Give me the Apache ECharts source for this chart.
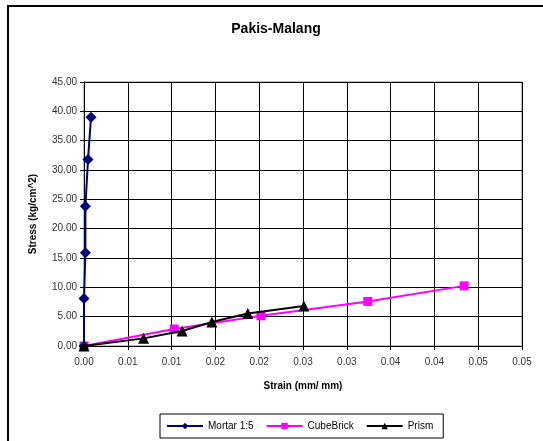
<!DOCTYPE html>
<html><head><meta charset="utf-8">
<script src="https://cdn.jsdelivr.net/npm/echarts@6/dist/echarts.min.js"></script>
<style>html,body{margin:0;padding:0;background:#fff}#c{width:543px;height:441px}</style>
</head><body><div id="c"></div>
<script>
const titleText = 'Pakis-Malang';
const xName = 'Strain (mm/ mm)';
const yName = 'Stress (kg/cm^2)';
const xTickLabels = ['0.00','0.01','0.01','0.02','0.02','0.03','0.03','0.04','0.04','0.05','0.05'];
const yTickLabels = ['0.00','5.00','10.00','15.00','20.00','25.00','30.00','35.00','40.00','45.00'];
const mortarStrain = [0, 0, 0.00016, 0.00016, 0.00046, 0.0008];
const mortarStress = [0, 8.1, 15.9, 23.8, 31.8, 39.0];
const cubeStrain = [0, 0.0103, 0.0202, 0.0324, 0.0434];
const cubeStress = [0, 2.9, 5.15, 7.6, 10.25];
const prismStrain = [0, 0.0068, 0.0112, 0.0146, 0.0187, 0.0251];
const prismStress = [0, 1.3, 2.55, 4.1, 5.55, 6.8];

const zip = (a, b) => a.map((v, i) => [v, b[i]]);
const FONT = 'Arial, "Liberation Sans", sans-serif';
const chart = echarts.init(document.getElementById('c'));
chart.setOption({
  animation: false,
  title: { text: titleText, left: 271, top: 17, textAlign: 'center',
    textStyle: { fontFamily: FONT, fontSize: 14, fontWeight: 'bold', color: '#000' } },
  graphic: [{ type: 'rect', shape: { x: 8, y: 6, width: 560, height: 460 },
    style: { fill: 'none', stroke: '#000', lineWidth: 2 }, z: -1 }],
  grid: { left: 84, top: 82, right: 21, bottom: 95, show: true, borderColor: '#808080', borderWidth: 1 },
  legend: {
    left: 160, top: 414,
    borderColor: '#000', borderWidth: 1, padding: [7, 10, 7, 6],
    itemWidth: 36, itemHeight: 8, itemGap: 12,
    textStyle: { fontFamily: FONT, fontSize: 10, color: '#000' },
    data: ['Mortar 1:5', 'CubeBrick', 'Prism']
  },
  xAxis: {
    type: 'value', min: 0, max: 0.05, interval: 0.005,
    name: xName, nameLocation: 'middle', nameGap: 35,
    nameTextStyle: { fontFamily: FONT, fontSize: 10, fontWeight: 'bold', color: '#000' },
    axisLine: { show: true, lineStyle: { color: '#000' } },
    axisTick: { show: true, length: 4, lineStyle: { color: '#000' } },
    axisLabel: { fontFamily: FONT, fontSize: 10, color: '#333', margin: 11,
      formatter: v => xTickLabels[Math.round(v / 0.005)] },
    splitLine: { show: true, lineStyle: { color: '#000', width: 1 } }
  },
  yAxis: {
    type: 'value', min: 0, max: 45, interval: 5,
    name: yName, nameLocation: 'middle', nameGap: 46, nameRotate: 90,
    nameTextStyle: { fontFamily: FONT, fontSize: 10, fontWeight: 'bold', color: '#000' },
    axisLine: { show: true, lineStyle: { color: '#000' } },
    axisTick: { show: true, length: 4, lineStyle: { color: '#000' } },
    axisLabel: { fontFamily: FONT, fontSize: 10, color: '#333', margin: 7,
      formatter: v => yTickLabels[Math.round(v / 5)] },
    splitLine: { show: true, lineStyle: { color: '#000', width: 1 } }
  },
  series: [
    { name: 'Mortar 1:5', type: 'line', data: zip(mortarStrain, mortarStress),
      symbol: 'diamond', symbolSize: 11, itemStyle: { color: '#000080' },
      lineStyle: { color: '#000080', width: 2 }, z: 3 },
    { name: 'CubeBrick', type: 'line', data: zip(cubeStrain, cubeStress),
      symbol: 'rect', symbolSize: 9, itemStyle: { color: '#FF00FF' },
      lineStyle: { color: '#FF00FF', width: 2 }, z: 2 },
    { name: 'Prism', type: 'line', data: zip(prismStrain, prismStress),
      symbol: 'triangle', symbolSize: 11, itemStyle: { color: '#000' },
      lineStyle: { color: '#000', width: 2 }, z: 4 }
  ]
});
</script></body></html>
